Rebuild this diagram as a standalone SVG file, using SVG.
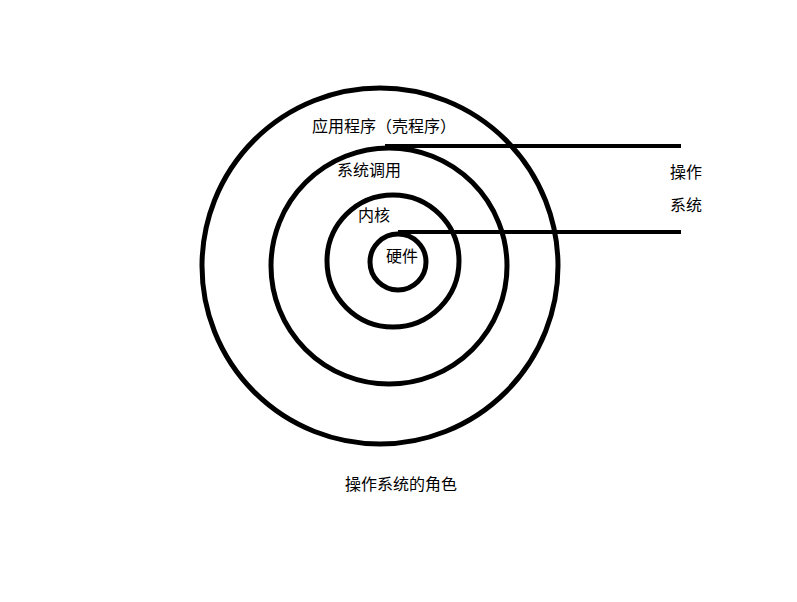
<svg xmlns="http://www.w3.org/2000/svg" width="797" height="602" viewBox="0 0 797 602">
<style>
.c{fill:none;stroke:#000;stroke-width:5}
.l{stroke:#000;stroke-width:4}
text{font-family:"Noto Sans CJK SC",sans-serif;font-size:16px;fill:#000}
</style>
<rect width="797" height="602" fill="#fff"/>
<g id="outer"><circle class="c" cx="380" cy="266" r="178"/><text x="312" y="132">应用程序（壳程序）</text></g>
<g id="syscall"><circle class="c" cx="389" cy="266" r="118"/><text x="337" y="176">系统调用</text></g>
<g id="kernel"><circle class="c" cx="393" cy="261" r="66"/><text x="358" y="221">内核</text></g>
<g id="hardware"><circle class="c" cx="398" cy="262" r="28"/><text x="386" y="262">硬件</text></g>
<g id="connectors">
<line class="l" x1="385" y1="146" x2="681" y2="146"/>
<line class="l" x1="398" y1="232" x2="681" y2="232"/>
</g>
<g id="os"><text x="670" y="178">操作</text><text x="670" y="211">系统</text></g>
<text x="345" y="490">操作系统的角色</text>
</svg>
